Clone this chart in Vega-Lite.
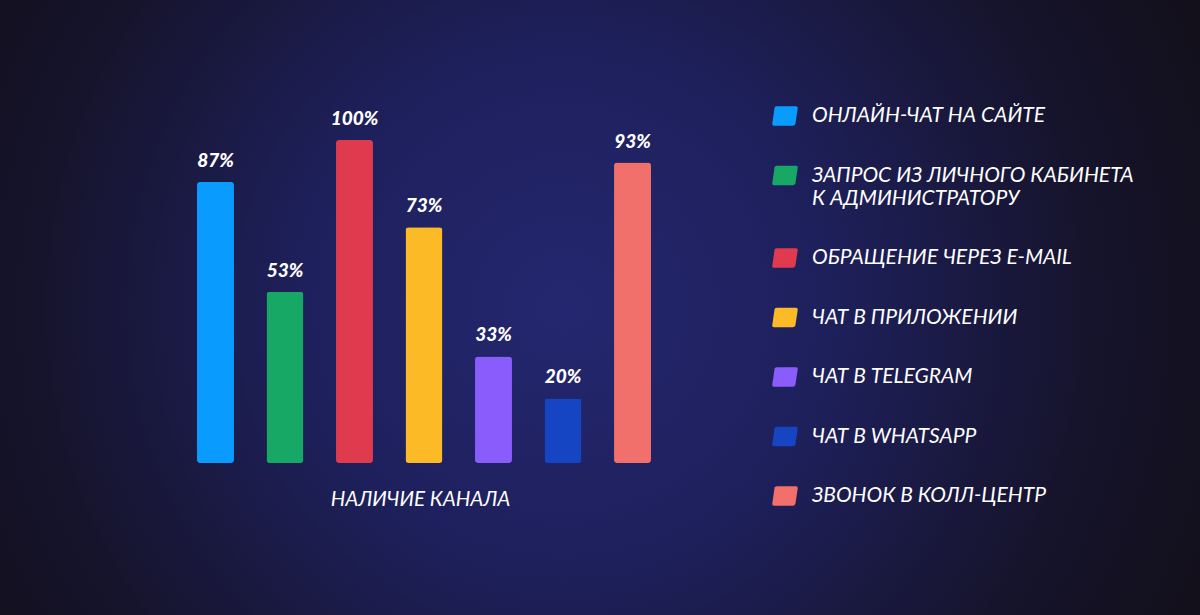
{
  "$schema": "https://vega.github.io/schema/vega-lite/v6.json",
  "width": 1200,
  "height": 615,
  "autosize": "none",
  "padding": 0,
  "background": "#130f17",
  "data": {
    "values": [
      {"channel": "ОНЛАЙН-ЧАТ НА САЙТЕ", "value": 0.87},
      {"channel": "ЗАПРОС ИЗ ЛИЧНОГО КАБИНЕТА К АДМИНИСТРАТОРУ", "value": 0.53},
      {"channel": "ОБРАЩЕНИЕ ЧЕРЕЗ E-MAIL", "value": 1.0},
      {"channel": "ЧАТ В ПРИЛОЖЕНИИ", "value": 0.73},
      {"channel": "ЧАТ В TELEGRAM", "value": 0.33},
      {"channel": "ЧАТ В WHATSAPP", "value": 0.2},
      {"channel": "ЗВОНОК В КОЛЛ-ЦЕНТР", "value": 0.93}
    ]
  },
  "encoding": {
    "x": {
      "field": "channel",
      "type": "nominal",
      "sort": null,
      "scale": {"range": [197, 651], "paddingInner": 0.468, "paddingOuter": 0},
      "axis": {
        "title": "НАЛИЧИЕ КАНАЛА",
        "labels": false,
        "ticks": false,
        "domain": false,
        "grid": false,
        "offset": -152,
        "titlePadding": 26,
        "titleX": 420,
        "titleFont": "Lato",
        "titleFontSize": 20.5,
        "titleFontStyle": "italic",
        "titleFontWeight": "normal",
        "titleColor": "#ffffff"
      }
    },
    "y": {
      "field": "value",
      "type": "quantitative",
      "scale": {"domain": [0, 1], "range": [463, 140]},
      "axis": null
    }
  },
  "layer": [
    {
      "mark": {"type": "bar", "cornerRadius": 3},
      "encoding": {
        "color": {
          "field": "channel",
          "type": "nominal",
          "scale": {
            "domain": ["ОНЛАЙН-ЧАТ НА САЙТЕ", "ЗАПРОС ИЗ ЛИЧНОГО КАБИНЕТА К АДМИНИСТРАТОРУ", "ОБРАЩЕНИЕ ЧЕРЕЗ E-MAIL", "ЧАТ В ПРИЛОЖЕНИИ", "ЧАТ В TELEGRAM", "ЧАТ В WHATSAPP", "ЗВОНОК В КОЛЛ-ЦЕНТР"],
            "range": ["#0a9bff", "#17a865", "#e03a4e", "#fdba27", "#8a5cfb", "#1545c2", "#f2706b"]
          },
          "legend": {
            "orient": "none",
            "legendX": 772,
            "legendY": 103,
            "padding": 0,
            "title": null,
            "symbolType": "M -0.8 -0.65 Q -0.75 -0.75 -0.6 -0.75 L 0.85 -0.75 Q 1 -0.75 0.98 -0.6 L 0.8 0.6 Q 0.75 0.75 0.6 0.75 L -0.85 0.75 Q -1 0.75 -0.98 0.6 Z",
            "symbolSize": 676,
            "symbolStrokeWidth": 0,
            "symbolOpacity": 1,
            "labelFont": "Lato",
            "labelFontSize": 21,
            "labelFontStyle": "italic",
            "labelColor": "#ffffff",
            "labelLimit": 600,
            "labelOffset": 14,
            "rowPadding": 36.5,
            "labelExpr": "datum.label == 'ЗАПРОС ИЗ ЛИЧНОГО КАБИНЕТА К АДМИНИСТРАТОРУ' ? ['ЗАПРОС ИЗ ЛИЧНОГО КАБИНЕТА', 'К АДМИНИСТРАТОРУ'] : datum.label"
          }
        }
      }
    },
    {
      "mark": {
        "type": "text",
        "color": "#ffffff",
        "font": "Lato",
        "fontSize": 19,
        "fontWeight": 900,
        "fontStyle": "italic",
        "baseline": "alphabetic",
        "dy": -15
      },
      "encoding": {
        "text": {"field": "value", "type": "quantitative", "format": ".0%"}
      }
    }
  ],
  "config": {
    "style": {"guide-label": {"lineHeight": 23}},
    "view": {
      "stroke": null,
      "fill": {
        "gradient": "radial",
        "x1": 0.47, "y1": 0.5, "r1": 0,
        "x2": 0.47, "y2": 0.5, "r2": 0.62,
        "stops": [
          {"offset": 0, "color": "#24276f"},
          {"offset": 0.35, "color": "#1e205c"},
          {"offset": 0.7, "color": "#16142d"},
          {"offset": 1, "color": "#120e16"}
        ]
      }
    }
  }
}
